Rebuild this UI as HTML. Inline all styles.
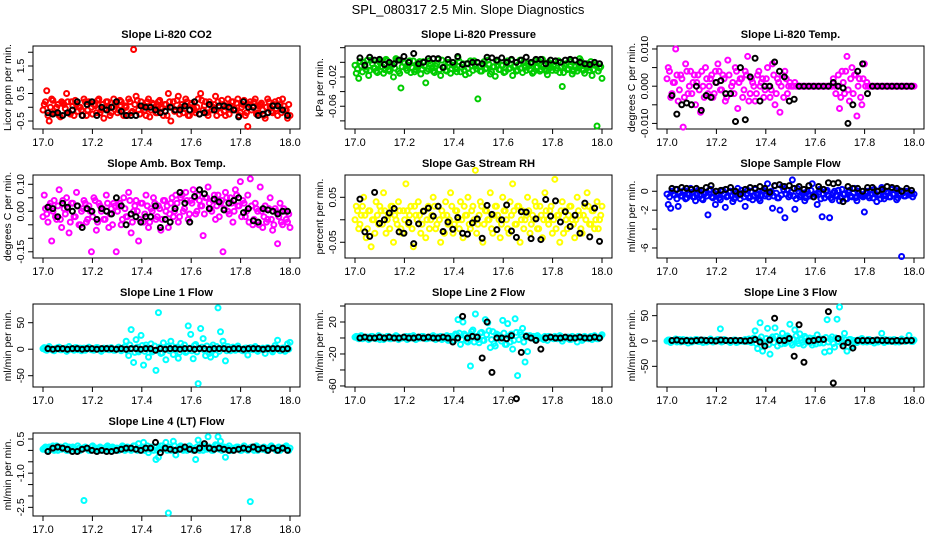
<!DOCTYPE html>
<html><head><meta charset="utf-8"><style>
html,body{margin:0;padding:0;background:#fff;}
svg{display:block;font-family:"Liberation Sans",Arial,sans-serif;}
</style></head><body>
<svg id="chart" width="936" height="540" viewBox="0 0 936 540" xmlns="http://www.w3.org/2000/svg">
<rect width="936" height="540" fill="#fff"/>
<text x="468" y="14" text-anchor="middle" font-size="13">SPL_080317  2.5 Min. Slope Diagnostics</text>
</svg>
<script>
// ---- data ----
const xTicks = [17.0, 17.2, 17.4, 17.6, 17.8, 18.0];
const xTickLabels = ["17.0", "17.2", "17.4", "17.6", "17.8", "18.0"];

const co2Vals = [0.1,0.6,-0.5,0.3,-0.2,0.0,-0.3,0.2,0.1,0.5,-0.2,0.2,-0.3,0.1,0.0,-0.1,0.3,-0.3,0.2,0.0,0.1,-0.2,0.3,-0.1,-0.4,0.2,0.0,-0.2,0.3,0.1,-0.1,0.2,-0.3,0.0,0.3,-0.2,2.1,0.4,-0.1,0.2,0.0,-0.3,0.3,-0.1,0.1,-0.2,0.2,0.0,-0.3,0.1,0.5,-0.5,0.2,-0.1,0.4,0.0,-0.2,0.3,-0.3,0.1,0.0,-0.2,0.3,0.5,-0.1,0.2,-0.3,0.1,0.0,0.4,0.2,-0.2,0.1,-0.3,0.3,0.0,0.2,-0.1,0.3,-0.2,0.1,-0.3,-0.7,0.2,0.0,0.3,-0.2,0.1,-0.1,-0.4,0.3,0.0,-0.2,0.2,-0.3,0.1,0.3,-0.1,-0.4,-0.3];
const co2Vals2 = [-0.1,0.2,-0.3,0.0,0.25,-0.2,0.1,-0.35,0.15,-0.05,0.2,-0.25,0.05,0.25,-0.15,0.0,-0.3,0.2,-0.1,0.15,-0.25,0.05,0.25,-0.2,0.1,-0.05,0.2,-0.3,0.0,0.15,-0.2,0.25,-0.1,0.05,-0.3,0.2,-0.15,0.1,0.25,-0.25,0.05,-0.1,0.2,-0.35,0.15,0.0,-0.2,0.25,-0.05,0.1,-0.3,0.2,0.0,-0.15,0.25,-0.25,0.1,-0.05,0.2,-0.3,0.15,-0.1,0.0,-0.25,0.25,0.05,-0.2,0.2,-0.1,0.1,-0.3,0.0,0.25,-0.15,0.05,-0.25,0.2,-0.05,0.15,-0.3,0.0,0.25,-0.2,0.1,-0.1,0.2,-0.25,0.05,0.15,-0.3,0.0,0.2,-0.15,0.1,-0.05,0.25,-0.2,0.05,-0.1,0.1];
const co2Ref = [-0.2,-0.25,-0.2,-0.3,-0.2,-0.1,0.2,-0.3,0.1,0.2,-0.3,0.0,-0.1,0.0,0.2,-0.15,-0.3,-0.3,-0.3,0.05,0.0,0.0,-0.1,-0.2,-0.15,0.0,-0.1,-0.1,0.05,-0.1,0.2,-0.25,-0.2,0.1,-0.1,0.05,0.05,0.0,-0.1,-0.35,0.2,0.0,0.0,-0.3,-0.25,-0.2,0.05,0.05,-0.1,-0.3];

const presVals = [-0.015,-0.022,-0.005,0.0,-0.01,-0.018,0.003,-0.008,-0.012,0.002,-0.006,-0.015,0.004,-0.01,-0.003,-0.02,0.005,-0.012,-0.035,0.0,-0.008,-0.004,-0.014,0.002,-0.01,-0.006,-0.016,0.001,-0.028,-0.009,-0.003,-0.012,-0.005,0.004,-0.018,-0.007,-0.011,0.0,-0.015,-0.004,-0.009,0.006,-0.013,-0.002,-0.017,-0.008,0.002,-0.011,-0.005,-0.05,-0.012,-0.003,-0.009,0.003,-0.016,-0.006,-0.019,0.001,-0.01,-0.004,-0.013,0.002,-0.008,-0.018,-0.005,-0.011,0.003,-0.014,-0.007,-0.002,-0.01,-0.015,0.002,-0.006,-0.012,0.004,-0.009,-0.017,-0.003,-0.011,0.001,-0.008,-0.014,-0.033,-0.005,-0.01,0.003,-0.016,-0.006,-0.012,0.005,-0.009,-0.015,-0.002,-0.011,-0.018,-0.004,-0.087,-0.008,-0.022];
const presVals2 = [-0.004,-0.009,0.001,-0.013,-0.006,0.003,-0.011,-0.002,-0.008,-0.014,0.0,-0.006,-0.01,0.002,-0.012,-0.004,-0.008,0.003,-0.015,-0.006,-0.001,-0.011,0.002,-0.007,-0.013,-0.003,0.001,-0.009,-0.005,-0.012,0.002,-0.007,-0.014,-0.002,-0.01,0.003,-0.006,-0.012,-0.001,-0.009,-0.004,-0.013,0.001,-0.007,-0.011,-0.002,-0.015,-0.005,0.002,-0.009,-0.006,-0.012,0.001,-0.008,-0.003,-0.013,-0.006,0.002,-0.01,-0.004,-0.014,-0.001,-0.009,0.003,-0.006,-0.012,-0.003,-0.008,0.001,-0.011,-0.005,-0.002,-0.013,-0.007,0.002,-0.01,-0.004,-0.012,0.0,-0.007,-0.003,-0.011,0.002,-0.006,-0.014,-0.002,-0.009,0.001,-0.012,-0.005,-0.008,0.002,-0.011,-0.004,-0.007,0.001,-0.01,-0.003,-0.012,-0.006];
const presRef = [0.006,-0.004,0.007,0.003,0.004,-0.003,0.0,-0.002,0.003,0.008,0.0,0.012,-0.002,0.0,0.005,0.005,0.005,-0.007,0.004,0.0,0.008,-0.003,-0.002,0.0,0.0,-0.002,0.007,0.006,0.003,0.006,0.0,0.004,0.0,0.003,0.007,0.0,0.004,0.004,-0.002,0.003,0.002,0.0,0.003,0.004,0.003,0.0,-0.002,-0.003,0.0,-0.002];

const tempVals = [0.005,-0.003,0.001,0.010,-0.004,0.003,-0.011,0.006,-0.002,0.004,0.001,-0.005,0.003,-0.007,0.000,0.005,-0.002,0.002,-0.003,0.004,0.006,-0.001,0.003,-0.004,0.007,-0.002,0.001,0.005,-0.006,0.002,-0.003,0.004,0.008,-0.002,0.001,-0.004,0.003,0.000,0.002,-0.001,0.005,-0.003,0.006,-0.005,0.002,-0.007,0.003,0.004,-0.002,0.001,0,0.001,0,0,0,0,0,0,0,0,0,0,0,0,0,0,0,0,0,-0.006,0.004,-0.002,0.008,-0.004,0.005,0.003,-0.008,0.002,-0.005,0.006,0.001,0,0,0,0,0,0,0,0,0,0,0,0,0,0,0,0,0,0,0];
const tempVals2 = [0.002,0.004,-0.002,0.001,0.003,-0.001,0.002,-0.003,0.004,0.0,-0.002,0.003,0.001,-0.001,0.004,-0.003,0.002,0.0,0.003,-0.002,0.001,0.004,-0.001,0.002,-0.003,0.003,0.0,-0.002,0.004,0.001,0.002,-0.001,0.003,-0.004,0.002,0.0,-0.002,0.004,0.001,-0.003,0.002,0.0,-0.001,0.003,-0.002,0.001,0.0,-0.003,0.002,0.0,0,0,0,0,0,0,0,0,0,0,0,0,0,0,0,0,0,0.002,-0.002,0.003,-0.003,0.001,0.004,-0.001,0.002,-0.002,0.003,0.0,-0.003,0.002,0,0,0,0,0,0,0,0,0,0,0,0,0,0,0,0,0,0,0,0];
const tempRef = [-0.0025,-0.0075,-0.005,-0.0045,-0.005,0.0,-0.0065,-0.0025,-0.003,0.001,0.0015,-0.002,-0.002,-0.0095,0.005,-0.009,0.0025,0.0075,-0.004,0.0,0.0,0.0065,0.004,0.0025,-0.004,-0.0035,0.0,0.0,0.0,0.0,0.0,0.0,0.0,0.001,0.0,-0.0005,-0.01,-0.005,0.004,0.006,-0.002,0.0,0.0,0.0,0.0,0.0,0.0,0.0,0.0,0.0];

const boxVals = [0.06,-0.01,0.02,-0.11,0.04,-0.03,0.08,-0.06,0.01,0.05,-0.08,0.03,-0.02,0.07,-0.05,0.0,0.04,-0.04,0.02,-0.15,0.05,-0.07,0.03,0.0,-0.03,0.06,-0.06,0.01,0.03,-0.15,0.02,-0.05,0.05,-0.02,0.07,-0.08,0.0,0.04,-0.11,0.03,-0.04,0.06,-0.06,0.01,0.05,-0.03,0.02,-0.07,0.04,0.0,-0.06,0.03,-0.02,0.06,-0.04,0.05,0.0,0.07,-0.03,0.04,0.08,-0.01,0.06,0.02,-0.09,0.05,0.09,0.01,0.04,-0.03,0.06,0.03,-0.15,0.07,0.0,0.05,-0.04,0.08,0.02,0.11,0.04,-0.02,0.06,0.12,-0.05,0.03,0.0,0.09,-0.06,0.02,-0.03,0.05,-0.07,0.01,-0.12,0.03,-0.05,0.0,-0.04,-0.06];
const boxVals2 = [-0.02,0.01,-0.04,0.03,0.0,-0.02,0.02,-0.03,0.04,-0.01,0.01,-0.04,0.03,-0.02,0.02,-0.05,0.01,0.03,-0.03,0.0,-0.02,0.04,-0.04,0.02,0.01,-0.03,0.03,-0.01,-0.05,0.02,0.0,0.03,-0.03,0.01,-0.02,0.04,-0.04,0.02,0.0,-0.03,0.03,-0.01,0.02,-0.04,0.0,0.03,-0.02,0.01,-0.03,0.04,0.02,-0.01,0.05,0.0,0.03,-0.02,0.06,0.01,0.04,-0.01,0.03,0.05,0.0,0.04,0.02,-0.01,0.05,0.03,0.0,0.06,0.02,-0.02,0.04,0.01,0.05,-0.01,0.03,0.0,0.06,0.02,-0.02,0.03,0.0,-0.04,0.02,-0.03,0.01,-0.05,0.0,-0.02,-0.04,0.01,-0.03,-0.05,0.0,-0.02,-0.04,0.01,-0.03,-0.01];
const boxRef = [0.015,0.01,-0.02,0.03,0.015,0.0,0.02,-0.06,0.01,0.0,-0.03,0.01,0.0,-0.01,0.05,0.02,-0.05,-0.01,-0.02,-0.04,-0.02,-0.02,0.02,-0.06,-0.03,-0.04,0.01,0.07,0.03,-0.04,0.055,0.08,0.065,0.01,0.045,0.035,0.005,0.03,0.04,0.05,-0.005,0.01,-0.035,-0.04,0.01,0.005,0.0,-0.01,0.0,0.0];

const rhVals = [0.03,-0.02,0.01,0.05,-0.04,0.02,-0.06,0.0,0.04,-0.01,0.02,0.06,-0.03,0.01,0.03,-0.05,0.0,0.04,-0.02,0.02,0.08,-0.01,0.03,-0.06,0.01,0.04,-0.03,0.02,-0.04,0.03,0.0,0.05,-0.02,0.03,-0.05,0.01,0.04,-0.01,0.06,-0.03,0.02,0.0,0.04,-0.04,0.01,0.05,-0.02,0.03,0.11,-0.01,0.04,-0.05,0.02,0.0,0.06,-0.03,0.03,0.01,-0.04,0.05,0.02,-0.02,0.04,0.08,-0.01,0.03,-0.05,0.02,0.0,0.05,-0.03,0.01,0.04,-0.02,0.03,-0.04,0.06,0.0,0.02,-0.03,0.09,0.01,-0.05,0.04,0.02,-0.02,0.03,0.0,-0.04,0.05,0.01,-0.03,0.03,0.06,-0.01,0.02,-0.02,0.04,0.0,0.03];
const rhVals2 = [0.0,0.02,-0.01,0.03,0.01,-0.02,0.02,0.0,-0.03,0.01,0.03,-0.01,0.02,0.0,-0.02,0.03,0.01,-0.01,0.02,-0.03,0.0,0.02,0.01,-0.02,0.03,0.0,0.01,-0.01,0.02,0.0,-0.02,0.01,0.03,-0.01,0.0,0.02,-0.03,0.01,0.0,0.03,-0.01,0.02,-0.02,0.0,0.03,0.01,-0.01,0.02,0.0,-0.03,0.01,0.03,-0.01,0.02,0.0,-0.02,0.01,0.03,0.0,-0.01,0.02,0.0,-0.03,0.01,0.02,-0.01,0.03,0.0,-0.02,0.01,0.02,-0.01,0.0,0.03,-0.02,0.01,0.0,0.02,-0.01,0.03,0.0,-0.02,0.01,0.02,-0.03,0.0,0.01,0.03,-0.01,0.0,0.02,-0.02,0.01,0.0,0.03,-0.01,0.02,0.0,-0.02,0.01];
const rhRef = [0.046,-0.027,-0.037,0.061,-0.008,0.0,0.015,0.025,-0.027,-0.03,-0.006,-0.053,-0.009,0.019,0.026,0.008,0.03,-0.026,-0.005,-0.021,0.005,-0.03,-0.032,-0.007,0.002,-0.041,0.032,0.012,-0.022,0.0,0.033,-0.025,-0.039,0.018,0.017,-0.042,0.002,-0.044,0.045,0.008,0.042,-0.005,0.018,-0.015,0.01,-0.03,0.037,-0.038,0.026,-0.048];

const sampVals = [-1.4,-1.8,-0.3,0.2,-1.6,-0.5,0.0,-0.8,-0.2,0.3,-0.6,-1.0,0.1,-0.4,-0.9,-0.2,-2.5,0.2,-0.7,-1.4,-0.3,-0.9,0.1,-1.7,-0.5,0.0,-1.1,-0.3,0.3,-0.8,-0.2,-1.6,0.1,-0.6,-0.9,0.2,-0.4,-1.0,0.0,-0.5,0.8,-0.3,-1.8,0.6,-0.7,-2.0,0.5,-2.8,0.1,-0.4,1.2,-1.9,0.3,-0.6,-0.2,-1.0,0.0,-0.5,0.8,-0.3,-1.4,0.2,-2.7,-0.7,0.1,-2.8,-0.9,0.0,-0.5,-1.0,0.2,-0.3,-0.8,0.1,-0.6,0.3,-1.0,-0.2,-0.5,-2.2,0.0,-0.7,-0.3,0.2,-1.1,-0.4,0.4,-0.8,0.0,-0.6,0.2,-0.3,-0.9,0.1,-6.9,-0.5,0.0,-0.4,-0.2,-0.3];
const sampVals2 = [-0.3,-0.6,0.0,-0.4,-0.8,-0.2,-0.5,0.1,-0.7,-0.3,-0.1,-0.6,-0.4,0.0,-0.8,-0.3,-0.5,0.1,-0.6,-0.2,-0.4,-0.7,0.0,-0.3,-0.6,-0.1,-0.5,-0.8,-0.2,-0.4,0.1,-0.6,-0.3,-0.7,0.0,-0.5,-0.2,-0.8,-0.4,0.1,-0.3,-0.6,0.0,-0.5,-0.2,-0.7,-0.4,0.2,-0.3,-0.6,-0.1,-0.5,-0.8,0.0,-0.4,-0.2,-0.7,-0.3,0.1,-0.6,-0.4,-0.1,-0.8,-0.3,0.0,-0.5,-0.7,-0.2,-0.4,0.1,-0.6,-0.3,-0.8,-0.1,-0.5,-0.2,-0.7,0.0,-0.4,-0.6,-0.2,-0.5,0.1,-0.7,-0.3,-0.4,-0.8,0.0,-0.5,-0.2,-0.6,-0.3,0.1,-0.7,-0.4,-0.2,-0.5,0.0,-0.3,-0.6];
const sampRef = [0.3,0.2,0.4,0.3,0.2,0.3,0.1,0.4,0.6,0.0,0.1,0.2,0.4,0.0,-0.3,0.2,0.4,0.3,0.5,0.3,-0.1,0.6,0.7,0.5,0.6,0.3,0.5,0.2,0.6,-0.6,0.5,0.2,0.9,0.8,0.9,-1.1,0.5,0.3,0.3,0.0,0.4,0.4,0.0,0.2,0.5,0.4,0.3,0.0,0.3,0.1];

const line1Vals = [3,-2,5,0,-3,2,4,-1,1,-4,5,0,-2,3,1,-3,2,0,4,-1,-2,3,0,-4,2,1,-1,3,-2,0,4,-3,1,15,-12,37,-25,18,-5,26,-30,8,-15,10,-3,-40,69,-8,12,-20,5,15,-10,3,-17,11,0,-6,44,28,-18,9,-65,39,20,-12,-5,-15,8,-10,78,33,15,-22,5,-3,4,-2,6,0,-3,2,-11,3,-1,5,-4,0,2,-8,3,1,-5,7,17,-3,2,-4,10,13];
const line1Vals2 = [1,-1,2,0,-2,1,3,-1,0,2,-2,1,0,3,-1,2,0,-2,1,2,-1,0,3,-2,1,0,2,-1,1,-2,2,0,-1,5,-3,8,2,-6,4,-2,7,-4,3,1,-5,6,-2,4,-7,2,5,-3,6,-1,4,-6,3,8,-4,2,-3,7,-5,1,4,-2,6,-8,3,-1,5,-4,2,7,-3,0,2,-1,3,0,-2,1,2,-1,0,3,-2,1,0,-1,2,1,-2,0,3,-1,1,2,-1,0];
const line1Ref = [1,0,1,1,0,1,1,0,1,1,0,1,1,1,0,1,0,1,1,0,1,1,-2,1,0,1,1,0,1,1,0,1,1,0,1,1,1,0,1,1,0,1,1,1,0,1,1,1,0,1];

const line2Vals = [2,-1,3,0,1,-2,2,0,-1,3,1,-2,0,2,-1,1,3,-2,0,1,2,-1,0,3,-2,1,0,2,-1,1,0,3,-2,1,2,-1,0,-3,2,1,5,23,-8,20,3,-5,-35,10,30,-2,6,-3,23,19,-12,8,-10,4,0,22,-8,18,-5,-14,24,-47,7,12,-30,-17,3,1,-2,3,0,-1,2,-3,1,0,2,-1,3,-4,0,1,-2,2,0,-5,1,-3,2,0,1,-2,3,-1,0,4];
const line2Vals2 = [1,0,2,-1,0,1,-1,2,0,1,-2,1,0,2,-1,0,1,2,-1,0,1,-2,2,0,1,-1,0,2,1,-1,0,2,-1,1,0,-2,1,3,-1,2,-3,4,6,-2,5,-4,3,8,-5,2,-6,7,-3,4,9,-2,-7,5,3,-4,6,-8,2,5,-3,7,-2,4,-5,3,1,0,2,-1,1,0,-2,1,2,0,-1,1,0,2,-1,0,1,-2,1,0,2,-1,1,0,-1,2,0,1,-1,2];
const line2Ref = [0,1,0,0,1,0,1,0,0,1,0,0,1,0,1,0,0,1,0,-5,0,27,0,2,1,-25,20,-43,0,0,-1,3,-76,-18,2,0,-3,-14,0,1,0,0,1,0,0,1,0,0,1,0];

const line3Vals = [2,-3,1,4,0,-2,3,1,-4,2,0,3,-1,2,-3,1,0,4,-2,1,3,24,-1,2,0,-3,1,2,-2,0,1,3,-1,0,2,20,-15,36,-20,-5,25,-26,8,26,-10,5,15,-5,10,33,-8,22,0,14,-3,9,-2,6,-8,0,12,-4,4,-22,42,-20,8,-12,43,67,-5,15,-20,3,-10,1,-3,2,5,0,-2,3,1,-4,2,0,15,-3,1,2,-1,3,0,-2,4,1,0,11,-1,2];
const line3Vals2 = [0,2,-1,1,-2,3,0,-1,2,1,-2,0,3,-1,1,2,-2,0,1,-1,2,0,-2,3,1,-1,0,2,-3,1,0,-1,2,4,-3,6,-5,3,8,-2,5,-7,4,-3,9,2,-6,5,-2,7,-4,3,10,-5,2,-8,6,1,-3,5,-6,4,2,-4,7,-2,3,-5,6,-1,4,-3,2,-2,3,1,-1,2,0,-2,1,3,-1,0,2,-2,1,0,3,-1,2,0,-2,1,0,2,-1,1,0,-1];
const line3Ref = [1,2,0,1,0,1,2,1,1,0,2,1,1,1,1,0,1,3,-2,-10,2,45,1,1,5,-30,32,-42,0,1,3,3,58,-83,5,-10,-3,-14,1,1,1,1,2,1,1,0,1,0,1,1];

const line4Vals = [0.1,0.0,0.15,0.05,0.0,0.2,0.1,0.05,0.1,0.0,0.15,0.05,0.1,0.0,0.1,0.05,-2.2,0.1,0.0,0.15,0.05,0.1,0.0,0.1,0.05,0.15,0.0,0.1,0.05,0.1,0.0,0.1,0.15,0.05,0.1,0.0,0.2,0.05,0.3,0.0,0.35,0.1,-0.1,0.15,0.0,-0.4,-0.3,0.2,0.1,0.35,-2.75,0.0,0.4,-0.2,0.1,0.2,0.0,0.15,0.05,0.1,0.0,-0.4,0.45,0.1,0.0,0.2,0.6,0.1,0.0,0.25,0.6,0.4,0.15,-0.3,0.1,0.0,0.1,0.05,0.15,0.0,0.1,0.05,0.0,-2.25,0.1,0.15,0.0,0.1,0.05,0.1,0.0,0.15,0.1,0.05,0.1,0.0,0.1,0.15,0.05,0.1];
const line4Vals2 = [0.05,0.15,0.0,0.1,0.2,0.05,0.0,0.15,0.1,0.2,0.0,0.1,0.15,0.05,0.2,0.0,0.1,0.15,0.05,0.0,0.2,0.1,0.05,0.15,0.0,0.1,0.2,0.05,0.15,0.0,0.1,0.05,0.2,0.0,0.15,0.1,0.05,0.2,0.0,0.1,0.15,0.0,0.2,0.05,0.1,0.15,0.0,0.05,0.2,0.1,0.0,0.15,0.05,0.2,0.0,0.1,0.15,0.05,0.0,0.2,0.1,0.05,0.15,0.0,0.2,0.1,0.05,0.15,0.0,0.1,0.2,0.05,0.0,0.15,0.1,0.2,0.0,0.05,0.15,0.1,0.0,0.2,0.05,0.1,0.15,0.0,0.2,0.05,0.1,0.15,0.0,0.05,0.2,0.1,0.0,0.15,0.05,0.1,0.2,0.0];
const line4Ref = [-0.05,0.1,0.15,0.1,0.05,-0.05,-0.05,0.05,0.1,0.0,-0.05,0.0,-0.05,-0.05,0.0,0.05,0.1,0.1,0.05,0.0,0.1,0.1,0.35,-0.1,0.1,0.05,0.0,0.05,0.15,0.05,0.0,0.1,0.3,0.1,0.05,0.1,0.05,0.0,0.0,0.05,0.1,0.05,0.15,0.05,0.1,0.0,0.1,0.0,0.1,0.0];

const co2Ticks = [-0.5,0,0.5,1,1.5,2];        const co2TickLabels = ["-0.5","","0.5","","1.5",""];
const presTicks = [0.02,0,-0.02,-0.04,-0.06,-0.08]; const presTickLabels = ["","","-0.02","","-0.06",""];
const tempTicks = [0.01,0.005,0,-0.005,-0.01]; const tempTickLabels = ["0.010","","0.000","","-0.010"];
const boxTicks = [0.1,0.05,0,-0.05,-0.1,-0.15]; const boxTickLabels = ["0.10","","0.00","","","-0.15"];
const rhTicks = [0.05,0,-0.05];               const rhTickLabels = ["0.05","","-0.05"];
const sampTicks = [0,-2,-4,-6];               const sampTickLabels = ["0","-2","","-6"];
const l1Ticks = [50,0,-50];                   const l1TickLabels = ["50","0","-50"];
const l2Ticks = [40,20,0,-20,-40,-60];        const l2TickLabels = ["","20","","-20","","-60"];
const l3Ticks = [50,0,-50];                   const l3TickLabels = ["50","0","-50"];
const l4Ticks = [0.5,0,-0.5,-1,-1.5,-2,-2.5]; const l4TickLabels = ["0.5","","","-1.0","","","-2.5"];

const colLeft = [33, 345, 657];
const rowTop = [46, 175, 304, 433];
const PW = 267, PH = 83;

const panels = [
 {name:"co2", title:"Slope Li-820 CO2", ylab:"Licor ppm per min.", c:0, r:0, ymin:-0.79, ymax:2.227, color:"#ff0000", vals:[co2Vals2, co2Vals], ref:co2Ref, ticks:co2Ticks, labels:co2TickLabels},
 {name:"pressure", title:"Slope Li-820 Pressure", ylab:"kPa per min.", c:1, r:0, ymin:-0.0911, ymax:0.0223, color:"#00cc00", vals:[presVals2, presVals], ref:presRef, ticks:presTicks, labels:presTickLabels},
 {name:"li820-temp", title:"Slope Li-820 Temp.", ylab:"degrees C per min.", c:2, r:0, ymin:-0.0115, ymax:0.0108, color:"#ff00ff", vals:[tempVals2, tempVals], ref:tempRef, ticks:tempTicks, labels:tempTickLabels},
 {name:"amb-box-temp", title:"Slope Amb. Box Temp.", ylab:"degrees C per min.", c:0, r:1, ymin:-0.173, ymax:0.1344, color:"#ff00ff", vals:[boxVals2, boxVals], ref:boxRef, ticks:boxTicks, labels:boxTickLabels},
 {name:"gas-stream-rh", title:"Slope Gas Stream RH", ylab:"percent per min.", c:1, r:1, ymin:-0.085, ymax:0.0996, color:"#ffff00", vals:[rhVals2, rhVals], ref:rhRef, ticks:rhTicks, labels:rhTickLabels},
 {name:"sample-flow", title:"Slope Sample Flow", ylab:"ml/min per min.", c:2, r:1, ymin:-7.06, ymax:1.72, color:"#0000ff", vals:[sampVals2, sampVals], ref:sampRef, ticks:sampTicks, labels:sampTickLabels},
 {name:"line1-flow", title:"Slope Line 1 Flow", ylab:"ml/min per min.", c:0, r:2, ymin:-71.3, ymax:85.3, color:"#00ffff", vals:[line1Vals2, line1Vals], ref:line1Ref, ticks:l1Ticks, labels:l1TickLabels},
 {name:"line2-flow", title:"Slope Line 2 Flow", ylab:"ml/min per min.", c:1, r:2, ymin:-61.3, ymax:42.5, color:"#00ffff", vals:[line2Vals2, line2Vals], ref:line2Ref, ticks:l2Ticks, labels:l2TickLabels},
 {name:"line3-flow", title:"Slope Line 3 Flow", ylab:"ml/min per min.", c:2, r:2, ymin:-90.8, ymax:73, color:"#00ffff", vals:[line3Vals2, line3Vals], ref:line3Ref, ticks:l3Ticks, labels:l3TickLabels},
 {name:"line4-flow", title:"Slope Line 4 (LT) Flow", ylab:"ml/min per min.", c:0, r:3, ymin:-2.88, ymax:0.764, color:"#00ffff", vals:[line4Vals2, line4Vals], ref:line4Ref, ticks:l4Ticks, labels:l4TickLabels}
];

const NS = "http://www.w3.org/2000/svg";
const svg = document.getElementById("chart");
function mk(tag, attrs, parent){
  const e = document.createElementNS(NS, tag);
  for (const k in attrs) e.setAttribute(k, attrs[k]);
  (parent||svg).appendChild(e);
  return e;
}

panels.forEach(p => {
  const L = colLeft[p.c], T = rowTop[p.r], B = T + PH;
  const xs = v => L + 10 + (v - 17) * (PW - 20);
  const ys = v => T + (p.ymax - v) / (p.ymax - p.ymin) * PH;
  const g = mk("g", {});
  
  

  const t = mk("text", {x: L + PW/2, y: T - 8, "text-anchor":"middle", "font-size":"11", "font-weight":"bold"}, g);
  t.textContent = p.title;
  
  

  const yl = mk("text", {x: 0, y: 0, "text-anchor":"middle", "font-size":"10.5", transform:`translate(${L-22},${T+PH/2}) rotate(-90)`}, g);
  yl.textContent = p.ylab;
  
  

  const box = mk("rect", {x:L, y:T, width:PW, height:PH, fill:"none", stroke:"#000", "stroke-width":"1"}, g);
  
  

  const xa = mk("g", {}, g);
  
  
  mk("line", {x1:xs(xTicks[0]), x2:xs(xTicks[xTicks.length-1]), y1:B, y2:B, stroke:"#000"}, xa);
  xTicks.forEach((v,i) => {
    mk("line", {x1:xs(v), x2:xs(v), y1:B, y2:B+5, stroke:"#000"}, xa);
    const lt = mk("text", {x:xs(v), y:B+17, "text-anchor":"middle", "font-size":"11"}, xa);
    lt.textContent = xTickLabels[i];
    
    
  });

  const ya = mk("g", {}, g);
  
  
  mk("line", {x1:L, x2:L, y1:ys(Math.max(...p.ticks)), y2:ys(Math.min(...p.ticks)), stroke:"#000"}, ya);
  p.ticks.forEach((v,i) => {
    mk("line", {x1:L-5, x2:L, y1:ys(v), y2:ys(v), stroke:"#000"}, ya);
    if (p.labels[i]) {
      const lt = mk("text", {x:0, y:0, "text-anchor":"middle", "font-size":"10.5", transform:`translate(${L-9},${ys(v)}) rotate(-90)`}, ya);
      lt.textContent = p.labels[i];
      
      
    }
  });

  const sg = mk("g", {fill:"none", stroke:p.color, "stroke-width":"2"}, g);
  
  
  p.vals.forEach((arr, k) => {
    const n = arr.length;
    arr.forEach((v,i) => {
      const c = mk("circle", {cx:xs(17 + (i + k*0.5)/(n-0.5)), cy:ys(v), r:2.5}, sg);
      
      
    });
  });

  const bg = mk("g", {fill:"none", stroke:"#000", "stroke-width":"2"}, g);
  
  
  const m = p.ref.length;
  p.ref.forEach((v,i) => {
    const c = mk("circle", {cx:xs(17.02 + i*0.97/(m-1)), cy:ys(v), r:2.5}, bg);
    
    
  });
});
</script>
</body></html>
